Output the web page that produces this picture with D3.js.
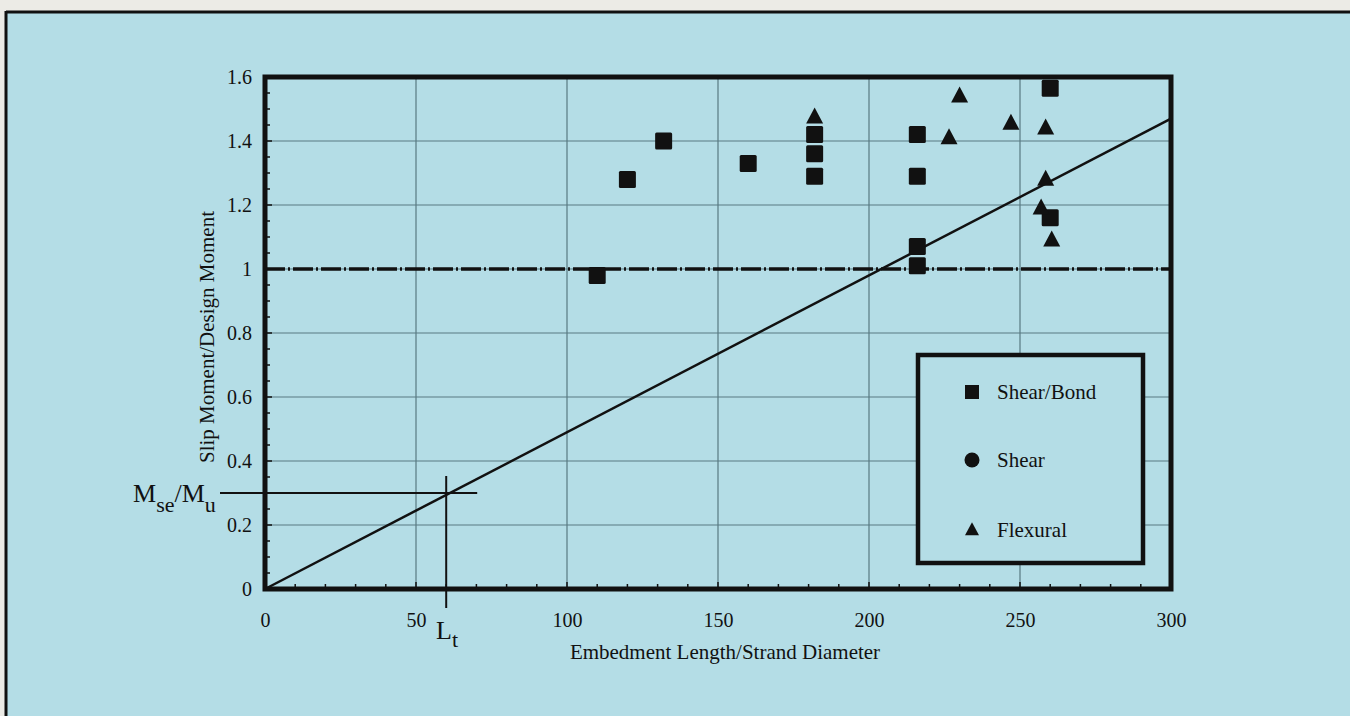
<!DOCTYPE html>
<html>
<head>
<meta charset="utf-8">
<script src="https://cdn.jsdelivr.net/npm/d3@7"></script>
<style>
  html, body { margin: 0; padding: 0; background: #ecebe6; }
  svg { display: block; }
  text { font-family: "Liberation Serif", "Times New Roman", serif; fill: #111; }
</style>
</head>
<body>
<svg id="chart" width="1350" height="716"></svg>
<script>
// ---- data ----
const xTicks = [0, 50, 100, 150, 200, 250, 300];
const yTicks = [0, 0.2, 0.4, 0.6, 0.8, 1, 1.2, 1.4, 1.6];
const yTickLabels = ["0", "0.2", "0.4", "0.6", "0.8", "1", "1.2", "1.4", "1.6"];

const shearBondX = [110, 120, 132, 160, 182, 182, 182, 216, 216, 216, 216, 260, 260];
const shearBondY = [0.98, 1.28, 1.40, 1.33, 1.42, 1.36, 1.29, 1.42, 1.29, 1.07, 1.01, 1.565, 1.16];

const shearX = [];
const shearY = [];

const flexuralX = [182, 226.5, 230, 247, 258.5, 258.5, 257, 260.5];
const flexuralY = [1.475, 1.41, 1.54, 1.455, 1.44, 1.28, 1.19, 1.09];

const trendLineX = [0, 300];
const trendLineY = [0, 1.47];
const designRatio = 1.0;
const transferLength = 60;   // L_t
const mseRatio = 0.30;       // Mse/Mu

const legendItems = ["Shear/Bond", "Shear", "Flexural"];
const xTitle = "Embedment Length/Strand Diameter";
const yTitle = "Slip Moment/Design Moment";

// ---- layout ----
const svg = d3.select("#chart");
const W = 1350, H = 716;
const plot = { left: 265, right: 1171, top: 77, bottom: 589 };

// background panel
svg.append("rect").attr("x", 0).attr("y", 0).attr("width", W).attr("height", H).attr("fill", "#ecebe6");
svg.append("rect").attr("x", 7).attr("y", 12).attr("width", W - 7).attr("height", H - 12)
  .attr("fill", "#b4dde6");
svg.append("line").attr("x1", 6).attr("x2", W).attr("y1", 12).attr("y2", 12)
  .attr("stroke", "#111").attr("stroke-width", 3);
svg.append("line").attr("x1", 6).attr("x2", 6).attr("y1", 11).attr("y2", H)
  .attr("stroke", "#111").attr("stroke-width", 3);

const x = d3.scaleLinear().domain([0, 300]).range([plot.left, plot.right]);
const y = d3.scaleLinear().domain([0, 1.6]).range([plot.bottom, plot.top]);

// grid
const grid = svg.append("g").attr("stroke", "#587a81").attr("stroke-width", 1.2);
xTicks.slice(1, -1).forEach(t => grid.append("line")
  .attr("x1", x(t)).attr("x2", x(t)).attr("y1", plot.top).attr("y2", plot.bottom));
yTicks.slice(1, -1).forEach(t => grid.append("line")
  .attr("x1", plot.left).attr("x2", plot.right).attr("y1", y(t)).attr("y2", y(t)));

// minor ticks (inside)
const minor = svg.append("g").attr("stroke", "#111").attr("stroke-width", 1.5);
d3.range(0, 300.01, 10).forEach(t => minor.append("line")
  .attr("x1", x(t)).attr("x2", x(t)).attr("y1", plot.bottom).attr("y2", plot.bottom - (t % 50 === 0 ? 7 : 5)));
d3.range(0, 1.601, 0.05).forEach(t => minor.append("line")
  .attr("x1", plot.left).attr("x2", plot.left + (Math.round(t * 100) % 20 === 0 ? 7 : 5))
  .attr("y1", y(t)).attr("y2", y(t)));

// axes with tick labels
const xAxis = d3.axisBottom(x).tickValues(xTicks).tickSize(0).tickPadding(24).tickFormat(d3.format("d"));
const gx = svg.append("g").attr("transform", `translate(0,${plot.bottom})`).call(xAxis);
gx.select(".domain").remove();
gx.selectAll("text").attr("font-size", 20).attr("font-family", "Liberation Serif").attr("fill", "#111");

const yAxis = d3.axisLeft(y).tickValues(yTicks).tickSize(0).tickPadding(13)
  .tickFormat((d, i) => yTickLabels[i]);
const gy = svg.append("g").attr("transform", `translate(${plot.left},0)`).call(yAxis);
gy.select(".domain").remove();
gy.selectAll("text").attr("font-size", 20).attr("font-family", "Liberation Serif").attr("fill", "#111");

// dashed design line at 1.0
svg.append("line")
  .attr("x1", plot.left).attr("x2", plot.right)
  .attr("y1", y(designRatio)).attr("y2", y(designRatio))
  .attr("stroke", "#111").attr("stroke-width", 3.5)
  .attr("stroke-dasharray", "20,3,2,3");

// trend line
const lineGen = d3.line().x(d => x(d[0])).y(d => y(d[1]));
svg.append("path")
  .datum(trendLineX.map((v, i) => [v, trendLineY[i]]))
  .attr("d", lineGen).attr("fill", "none").attr("stroke", "#111").attr("stroke-width", 2.5);

// Lt and Mse/Mu guide lines
svg.append("line")
  .attr("x1", x(transferLength)).attr("x2", x(transferLength))
  .attr("y1", y(mseRatio) - 17).attr("y2", plot.bottom + 19)
  .attr("stroke", "#111").attr("stroke-width", 2);
svg.append("line")
  .attr("x1", plot.left - 45).attr("x2", x(transferLength) + 31)
  .attr("y1", y(mseRatio)).attr("y2", y(mseRatio))
  .attr("stroke", "#111").attr("stroke-width", 2);

// plot frame
svg.append("rect")
  .attr("x", plot.left).attr("y", plot.top)
  .attr("width", plot.right - plot.left).attr("height", plot.bottom - plot.top)
  .attr("fill", "none").attr("stroke", "#111").attr("stroke-width", 5);

// markers
const sq = 17;
svg.append("g").selectAll("rect")
  .data(shearBondX.map((v, i) => [v, shearBondY[i]]))
  .join("rect")
  .attr("x", d => x(d[0]) - sq / 2).attr("y", d => y(d[1]) - sq / 2)
  .attr("width", sq).attr("height", sq).attr("rx", 1.5)
  .attr("fill", "#111");

svg.append("g").selectAll("circle")
  .data(shearX.map((v, i) => [v, shearY[i]]))
  .join("circle")
  .attr("cx", d => x(d[0])).attr("cy", d => y(d[1])).attr("r", 8).attr("fill", "#111");

const tri = (cx, cy, w, h) => `M${cx},${cy - h * 0.6}L${cx + w / 2},${cy + h * 0.4}L${cx - w / 2},${cy + h * 0.4}Z`;
svg.append("g").selectAll("path")
  .data(flexuralX.map((v, i) => [v, flexuralY[i]]))
  .join("path")
  .attr("d", d => tri(x(d[0]), y(d[1]), 17, 16))
  .attr("fill", "#111");

// legend
const lg = svg.append("g");
lg.append("rect").attr("x", 918).attr("y", 355).attr("width", 225).attr("height", 208)
  .attr("fill", "#b4dde6").attr("stroke", "#111").attr("stroke-width", 4.5);
const legendY = [392, 460, 530];
legendItems.forEach((name, i) => {
  const cy = legendY[i];
  if (i === 0) lg.append("rect").attr("x", 972 - 7).attr("y", cy - 7).attr("width", 14).attr("height", 14).attr("fill", "#111");
  if (i === 1) lg.append("circle").attr("cx", 972).attr("cy", cy).attr("r", 7.5).attr("fill", "#111");
  if (i === 2) lg.append("path").attr("d", tri(972, cy, 14, 13)).attr("fill", "#111");
  lg.append("text").attr("x", 997).attr("y", cy + 7).attr("font-size", 21).text(name);
});

// axis titles
svg.append("text").attr("x", 725).attr("y", 659)
  .attr("text-anchor", "middle").attr("font-size", 21).text(xTitle);
svg.append("text")
  .attr("transform", `translate(214,337) rotate(-90)`)
  .attr("text-anchor", "middle").attr("font-size", 21).text(yTitle);

// annotation labels
const mse = svg.append("text").attr("x", 133).attr("y", 502).attr("font-size", 26);
mse.append("tspan").text("M");
mse.append("tspan").attr("dy", 10).attr("font-size", 22).text("se");
mse.append("tspan").attr("dy", -10).text("/M");
mse.append("tspan").attr("dy", 10).attr("font-size", 22).text("u");

const lt = svg.append("text").attr("x", 436).attr("y", 639).attr("font-size", 26);
lt.append("tspan").text("L");
lt.append("tspan").attr("dy", 8).attr("font-size", 22).text("t");
</script>
</body>
</html>
